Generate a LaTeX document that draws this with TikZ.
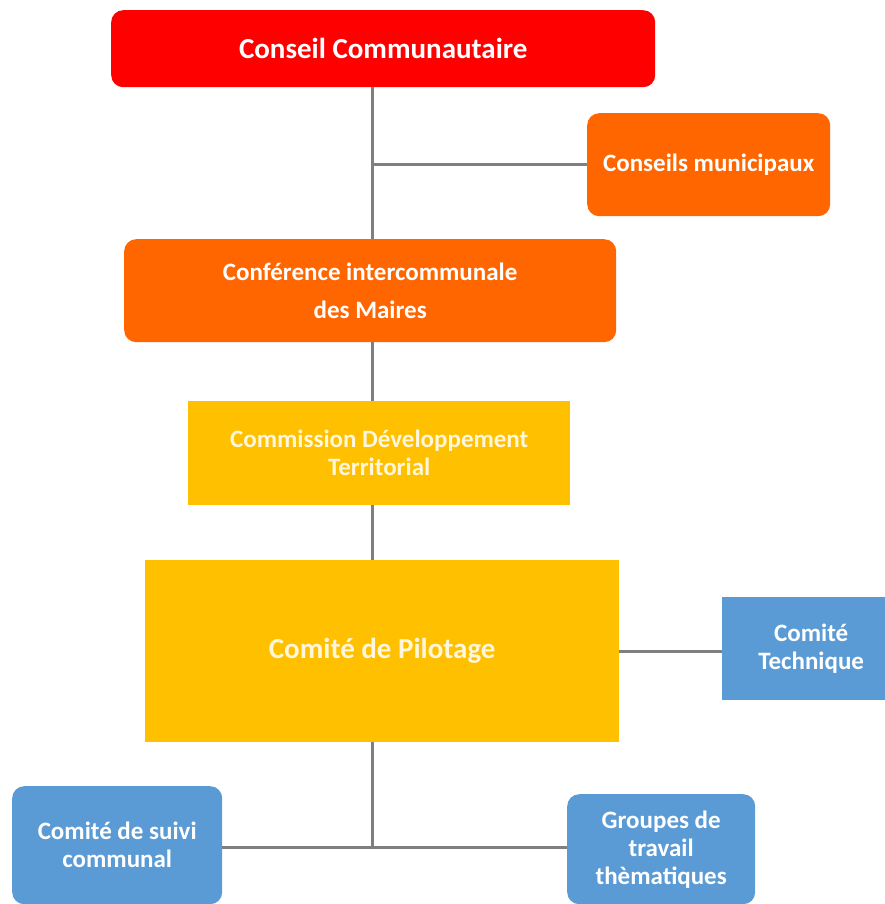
\documentclass[tikz,border=0pt]{standalone}
\usepackage{fontspec}
\setmainfont{Carlito}
\definecolor{cred}{HTML}{FF0000}
\definecolor{corange}{HTML}{FF6600}
\definecolor{cgold}{HTML}{FFC000}
\definecolor{cblue}{HTML}{5B9BD5}
\definecolor{ccream}{HTML}{FFF6DC}
\definecolor{clink}{HTML}{7F7F7F}
\begin{document}
\begin{tikzpicture}[x=1pt,y=-1pt,
				every node/.style={inner sep=0pt,align=center,text=white,font=\bfseries\fontsize{25}{28}\selectfont},
				box/.style={rectangle,anchor=north west},
				round/.style={box,rounded corners=12pt},
				link/.style={draw=clink,line width=3pt}]
\useasboundingbox (0,0) rectangle (884,904);
\coordinate (spine) at (372,0);
\coordinate (fork) at (372,847);
% boxes
\node[round,fill=cred,minimum width=544pt,minimum height=77pt,font=\bfseries\fontsize{29}{33}\selectfont] (cc) at (111,10) {Conseil Communautaire};
\node[round,fill=corange,minimum width=243pt,minimum height=103pt] (cm) at (587,113) {Conseils municipaux};
\node[round,fill=corange,minimum width=492pt,minimum height=103pt] (conf) at (124,239) {Conférence intercommunale\\[10pt]des Maires};
\node[box,fill=cgold,text=ccream,minimum width=382pt,minimum height=104pt] (cdt) at (188,401) {Commission Développement\\Territorial};
\node[box,fill=cgold,text=ccream,minimum width=474pt,minimum height=182pt,font=\bfseries\fontsize{29}{32}\selectfont] (pil) at (145,560) {Comité de Pilotage};
\node[box,fill=cblue,minimum width=178pt,minimum height=103pt] (ct) at (722,597) {Comité\\Technique};
\node[round,fill=cblue,minimum width=210pt,minimum height=118pt] (csc) at (12,786) {Comité de suivi\\communal};
\node[round,fill=cblue,minimum width=188pt,minimum height=110pt] (gt) at (567,794) {Groupes de\\travail\\thèmatiques};
% links
\draw[link] (cc.south -| spine) -- (conf.north -| spine);
\draw[link] (cm.west -| spine) -- (cm.west);
\draw[link] (conf.south -| spine) -- (cdt.north -| spine);
\draw[link] (cdt.south -| spine) -- (pil.north -| spine);
\draw[link] (pil.east) -- (pil.east -| ct.west);
\draw[link] (pil.south -| spine) -- (fork);
\draw[link] (csc.east |- fork) -- (gt.west |- fork);
\end{tikzpicture}
\end{document}
